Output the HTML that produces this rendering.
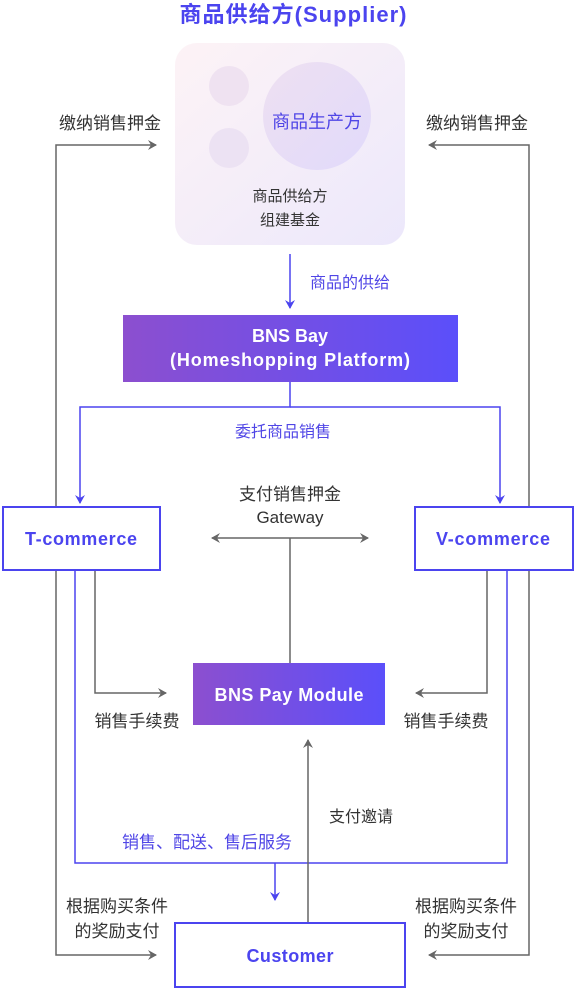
<!DOCTYPE html>
<html><head><meta charset="utf-8"><style>
body{margin:0;width:576px;height:990px;background:#fff;overflow:hidden;font-family:"Liberation Sans","Noto Sans CJK SC",sans-serif;}
</style></head><body>
<svg width="576" height="990" xmlns="http://www.w3.org/2000/svg" font-family="Liberation Sans, Noto Sans CJK SC, sans-serif">
<defs>
<linearGradient id="sg" x1="0" y1="0" x2="1" y2="1"><stop offset="0" stop-color="#fdf3f6"/><stop offset="1" stop-color="#ece8fb"/></linearGradient>
<linearGradient id="cg" x1="0" y1="0" x2="1" y2="1"><stop offset="0" stop-color="#eee0f1"/><stop offset="1" stop-color="#e1dafb"/></linearGradient>
<linearGradient id="bg" x1="0" y1="0" x2="1" y2="0"><stop offset="0" stop-color="#8c4fcf"/><stop offset="1" stop-color="#5b4ffa"/></linearGradient>
<marker id="ag" markerWidth="10" markerHeight="10" refX="8" refY="5" orient="auto" markerUnits="userSpaceOnUse"><path d="M0,0 L9,5 L0,10 L3,5 Z" fill="#666"/></marker>
<marker id="ab" markerWidth="10" markerHeight="10" refX="8" refY="5" orient="auto" markerUnits="userSpaceOnUse"><path d="M0,0 L9,5 L0,10 L3,5 Z" fill="#4b44ef"/></marker>
</defs>
<text x="293" y="22" text-anchor="middle" font-size="22" font-weight="bold" fill="#4b44ef" textLength="227">商品供给方(Supplier)</text>
<rect x="175" y="43" width="230" height="202" rx="22" fill="url(#sg)"/>
<circle cx="229" cy="86" r="20" fill="#efe2f1"/>
<circle cx="229" cy="148" r="20" fill="#ece2f3"/>
<circle cx="317" cy="116" r="54" fill="url(#cg)"/>
<text x="317" y="128" text-anchor="middle" font-size="18" fill="#5046e6">商品生产方</text>
<text x="290" y="201" text-anchor="middle" font-size="15" fill="#333">商品供给方</text>
<text x="290" y="225" text-anchor="middle" font-size="15" fill="#333">组建基金</text>
<g fill="none" stroke-width="1.5">
<line x1="290" y1="254" x2="290" y2="308" stroke="#4b44ef" marker-end="url(#ab)"/>
<path d="M290,382 V407 H80 V503" stroke="#4b44ef" marker-end="url(#ab)"/>
<path d="M290,407 H500 V503" stroke="#4b44ef" marker-end="url(#ab)"/>
<path d="M56,507 V145 H156" stroke="#666" marker-end="url(#ag)"/>
<path d="M529,507 V145 H429" stroke="#666" marker-end="url(#ag)"/>
<line x1="290" y1="538" x2="368" y2="538" stroke="#666" marker-end="url(#ag)"/>
<line x1="290" y1="538" x2="212" y2="538" stroke="#666" marker-end="url(#ag)"/>
<line x1="290" y1="538" x2="290" y2="663" stroke="#666"/>
<path d="M95,570 V693 H166" stroke="#666" marker-end="url(#ag)"/>
<path d="M487,570 V693 H416" stroke="#666" marker-end="url(#ag)"/>
<path d="M75,570 V863 H507 V570" stroke="#4b44ef"/>
<line x1="275" y1="863" x2="275" y2="900" stroke="#4b44ef" marker-end="url(#ab)"/>
<line x1="308" y1="922" x2="308" y2="740" stroke="#666" marker-end="url(#ag)"/>
<path d="M56,570 V955 H156" stroke="#666" marker-end="url(#ag)"/>
<path d="M529,570 V955 H429" stroke="#666" marker-end="url(#ag)"/>
</g>
<text x="350" y="288" text-anchor="middle" font-size="16" fill="#5046e6">商品的供给</text>
<rect x="123" y="315" width="335" height="67" fill="url(#bg)"/>
<text x="290" y="342" text-anchor="middle" font-size="18" font-weight="bold" fill="#fff">BNS Bay</text>
<text x="290" y="366" text-anchor="middle" font-size="18" font-weight="bold" fill="#fff" textLength="240">(Homeshopping Platform)</text>
<text x="283" y="437" text-anchor="middle" font-size="16" fill="#5046e6">委托商品销售</text>
<text x="110" y="129" text-anchor="middle" font-size="17" fill="#333">缴纳销售押金</text>
<text x="477" y="129" text-anchor="middle" font-size="17" fill="#333">缴纳销售押金</text>
<rect x="3" y="507" width="157" height="63" fill="#fff" stroke="#4b44ef" stroke-width="2"/>
<text x="81" y="545" text-anchor="middle" font-size="18" font-weight="bold" fill="#4b44ef" textLength="112">T-commerce</text>
<rect x="415" y="507" width="158" height="63" fill="#fff" stroke="#4b44ef" stroke-width="2"/>
<text x="493" y="545" text-anchor="middle" font-size="18" font-weight="bold" fill="#4b44ef" textLength="114">V-commerce</text>
<text x="290" y="500" text-anchor="middle" font-size="17" fill="#333">支付销售押金</text>
<text x="290" y="523" text-anchor="middle" font-size="17" fill="#333">Gateway</text>
<rect x="193" y="663" width="192" height="62" fill="url(#bg)"/>
<text x="289" y="701" text-anchor="middle" font-size="18" font-weight="bold" fill="#fff" textLength="149">BNS Pay Module</text>
<text x="137" y="727" text-anchor="middle" font-size="17" fill="#333">销售手续费</text>
<text x="446" y="727" text-anchor="middle" font-size="17" fill="#333">销售手续费</text>
<text x="361" y="822" text-anchor="middle" font-size="16" fill="#333">支付邀请</text>
<text x="207" y="848" text-anchor="middle" font-size="17" fill="#5046e6">销售、配送、售后服务</text>
<text x="117" y="912" text-anchor="middle" font-size="17" fill="#333">根据购买条件</text>
<text x="117" y="937" text-anchor="middle" font-size="17" fill="#333">的奖励支付</text>
<text x="466" y="912" text-anchor="middle" font-size="17" fill="#333">根据购买条件</text>
<text x="466" y="937" text-anchor="middle" font-size="17" fill="#333">的奖励支付</text>
<rect x="175" y="923" width="230" height="64" fill="#fff" stroke="#4b44ef" stroke-width="2"/>
<text x="290" y="962" text-anchor="middle" font-size="18" font-weight="bold" fill="#4b44ef" textLength="87">Customer</text>
</svg>
</body></html>
